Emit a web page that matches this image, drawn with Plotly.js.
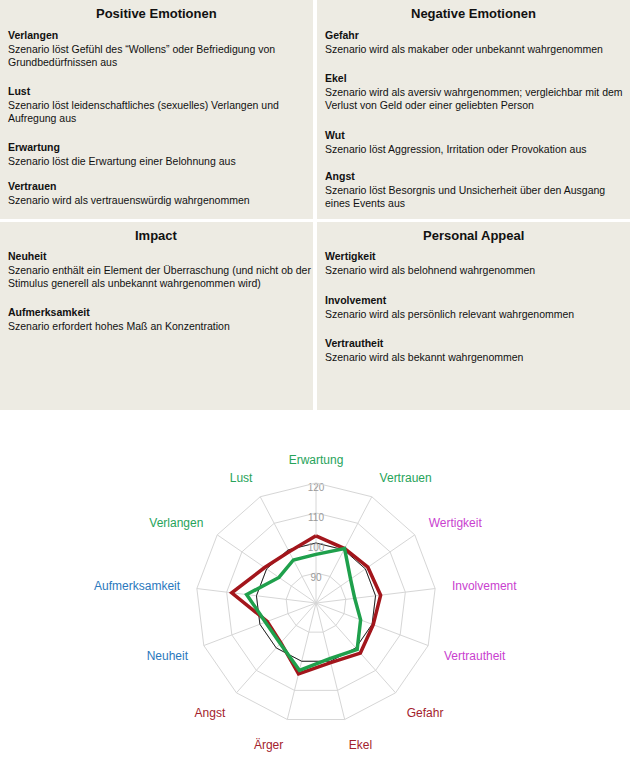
<!DOCTYPE html>
<html>
<head>
<meta charset="utf-8">
<script src="https://cdn.plot.ly/plotly-3.0.1.min.js"></script>
<style>
  html, body { margin: 0; padding: 0; background: #ffffff; }
  #chart { width: 630px; height: 779px; }
</style>
</head>
<body>
<div id="chart"></div>
<script>
// ---- Data ----
const categories = ["Erwartung", "Vertrauen", "Wertigkeit", "Involvement", "Vertrautheit",
  "Gefahr", "Ekel", "Ärger", "Angst", "Neuheit", "Aufmerksamkeit", "Verlangen", "Lust"];
const categoryGroup = ["pos", "pos", "pers", "pers", "pers",
  "neg", "neg", "neg", "neg", "imp", "imp", "pos", "pos"];
const baselineValues = [100, 100, 100, 100, 100, 100, 100, 100, 100, 100, 100, 100, 100];
const redValues = [102.4, 100.5, 101.0, 101.7, 100.4, 102.3, 100.5, 104.3, 97.7, 97.4, 108.3, 100.8, 99.3];
const greenValues = [96.2, 100.5, 94.0, 93.0, 95.9, 100.7, 99.1, 103.1, 98.0, 98.0, 103.3, 95.0, 96.2];
const radialTicks = [90, 100, 110, 120];

// Table text
const sectionTitles = ["Positive Emotionen", "Negative Emotionen", "Impact", "Personal Appeal"];
const sectionPositive = [
  ["Verlangen", ["Szenario löst Gefühl des “Wollens” oder Befriedigung von", "Grundbedürfnissen aus"]],
  ["Lust", ["Szenario löst leidenschaftliches (sexuelles) Verlangen und", "Aufregung aus"]],
  ["Erwartung", ["Szenario löst die Erwartung einer Belohnung aus"]],
  ["Vertrauen", ["Szenario wird als vertrauenswürdig wahrgenommen"]]
];
const sectionNegative = [
  ["Gefahr", ["Szenario wird als makaber oder unbekannt wahrgenommen"]],
  ["Ekel", ["Szenario wird als aversiv wahrgenommen; vergleichbar mit dem", "Verlust von Geld oder einer geliebten Person"]],
  ["Wut", ["Szenario löst Aggression, Irritation oder Provokation aus"]],
  ["Angst", ["Szenario löst Besorgnis und Unsicherheit über den Ausgang", "eines Events aus"]]
];
const sectionImpact = [
  ["Neuheit", ["Szenario enthält ein Element der Überraschung (und nicht ob der", "Stimulus generell als unbekannt wahrgenommen wird)"]],
  ["Aufmerksamkeit", ["Szenario erfordert hohes Maß an Konzentration"]]
];
const sectionPersonal = [
  ["Wertigkeit", ["Szenario wird als belohnend wahrgenommen"]],
  ["Involvement", ["Szenario wird als persönlich relevant wahrgenommen"]],
  ["Vertrautheit", ["Szenario wird als bekannt wahrgenommen"]]
];

// ---- Styling ----
const groupColors = { pos: "#27a35a", neg: "#a3222c", pers: "#c93fcf", imp: "#2a78bd" };
const W = 630, H = 779;
const FONT = "Liberation Sans, Arial, sans-serif";

function close(arr) { return arr.concat([arr[0]]); }
const thetaClosed = close(categories);

const traces = [
  { type: "scatterpolar", r: close(baselineValues), theta: thetaClosed, mode: "lines",
    line: { color: "#222222", width: 1 }, hoverinfo: "skip", showlegend: false },
  { type: "scatterpolar", r: close(redValues), theta: thetaClosed, mode: "lines",
    line: { color: "#a3161c", width: 3.5 }, showlegend: false },
  { type: "scatterpolar", r: close(greenValues), theta: thetaClosed, mode: "lines",
    line: { color: "#1fa04c", width: 3.5 }, showlegend: false },
  { type: "scatterpolar", r: radialTicks, theta: radialTicks.map(() => categories[0]),
    mode: "text", text: radialTicks.map(String), textposition: "bottom center",
    textfont: { family: FONT, size: 10, color: "#9a9a9a" }, hoverinfo: "skip", showlegend: false }
];

// ---- Table (shapes + annotations) ----
const cells = [
  { x0: 0, x1: 313, y0: 0, y1: 219, items: sectionPositive, tops: [27, 83, 139, 178] },
  { x0: 317, x1: 630, y0: 0, y1: 219, items: sectionNegative, tops: [27, 70, 127, 168] },
  { x0: 0, x1: 313, y0: 222, y1: 410, items: sectionImpact, tops: [248, 304] },
  { x0: 317, x1: 630, y0: 222, y1: 410, items: sectionPersonal, tops: [248, 292, 335] }
];
const px = x => x / W;
const py = y => 1 - y / H;

const shapes = [];
const annotations = [];
cells.forEach((c, i) => {
  shapes.push({ type: "rect", xref: "paper", yref: "paper",
    x0: px(c.x0), x1: px(c.x1), y0: py(c.y1), y1: py(c.y0),
    fillcolor: "#edebe3", line: { width: 0 }, layer: "below" });
  annotations.push({ xref: "paper", yref: "paper", x: px((c.x0 + c.x1) / 2), y: py(c.y0 + 13),
    xanchor: "center", yanchor: "middle", showarrow: false,
    text: "<b>" + sectionTitles[i] + "</b>", font: { family: FONT, size: 13, color: "#111111" } });
  c.items.forEach((it, j) => {
    annotations.push({ xref: "paper", yref: "paper", x: px(c.x0 + 6), y: py(c.tops[j]),
      xanchor: "left", yanchor: "top", align: "left", showarrow: false,
      text: "<b>" + it[0] + "</b><br>" + it[1].join("<br>"),
      font: { family: FONT, size: 10.5, color: "#111111" } });
  });
});

// ---- Polar layout ----
const cx = 316, cy = 603, R = 120;
const tickText = categories.map((c, i) =>
  '<span style="color:' + groupColors[categoryGroup[i]] + '">' + c + '</span>');

const layout = {
  width: W, height: H,
  margin: { l: 0, r: 0, t: 0, b: 0 },
  paper_bgcolor: "#ffffff",
  showlegend: false,
  font: { family: FONT },
  shapes: shapes,
  annotations: annotations,
  polar: {
    domain: { x: [px(cx - R), px(cx + R)], y: [py(cy + R), py(cy - R)] },
    gridshape: "linear",
    bgcolor: "rgba(0,0,0,0)",
    radialaxis: {
      range: [80, 120], tickvals: radialTicks, showticklabels: false, ticks: "",
      showline: false, gridcolor: "#d6d6d6", gridwidth: 1, angle: 90
    },
    angularaxis: {
      type: "category", categoryorder: "array", categoryarray: categories,
      direction: "clockwise", rotation: 90,
      tickmode: "array", tickvals: categories, ticktext: tickText,
      tickfont: { family: FONT, size: 12 },
      ticks: "outside", ticklen: 14, tickcolor: "rgba(0,0,0,0)",
      showline: true, linecolor: "#d6d6d6", linewidth: 1,
      gridcolor: "#d6d6d6", gridwidth: 1
    }
  }
};

Plotly.newPlot("chart", traces, layout, { displayModeBar: false, staticPlot: true });
</script>
</body>
</html>
